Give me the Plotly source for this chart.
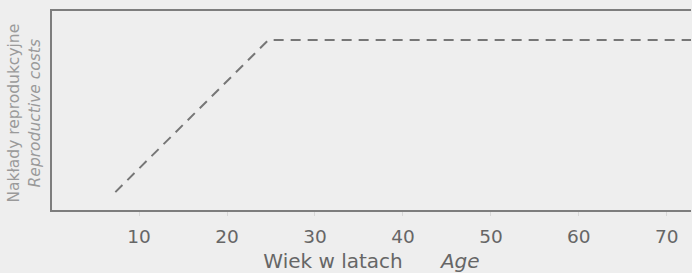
import plotly.graph_objects as go

# Data
ages = [7.3, 24.7, 73.5]
costs = [0.9, 8.54, 8.54]
tick_vals = [10, 20, 30, 40, 50, 60, 70]
tick_text = ["10", "20", "30", "40", "50", "60", "70"]

bg = "#eeeeee"
fig = go.Figure()
fig.add_trace(go.Scatter(
    x=ages, y=costs, mode="lines",
    line=dict(color="#767676", width=2, dash="10px,7px"),
    showlegend=False, hoverinfo="skip",
))

fig.update_layout(
    width=692, height=273,
    margin=dict(l=52, r=1, t=11, b=63, autoexpand=False),
    paper_bgcolor=bg, plot_bgcolor=bg,
    font=dict(family="DejaVu Sans, sans-serif", color="#666666"),
    hovermode=False,
    xaxis=dict(
        range=[0.1, 72.75], tickvals=tick_vals, ticktext=tick_text,
        showgrid=False, zeroline=False, automargin=False,
        showline=True, linecolor="#7d7d7d", linewidth=2, mirror=True,
        ticks="outside", ticklen=4, tickcolor="#d8d8d8", tickwidth=1,
        ticklabelstandoff=5,
        tickfont=dict(size=18.5, color="#666666"),
        title=dict(text="Wiek w latach&nbsp;&nbsp;&nbsp;&nbsp;&nbsp;&nbsp;<i>Age</i>",
                   font=dict(size=20, color="#666666"), standoff=8),
    ),
    yaxis=dict(
        range=[0, 10], showticklabels=False, ticks="",
        showgrid=False, zeroline=False, automargin=False,
        showline=True, linecolor="#7d7d7d", linewidth=2, mirror=False,
    ),
    annotations=[dict(
        text="Nakłady reprodukcyjne<br><i>Reproductive costs</i>",
        textangle=-90, xref="paper", yref="paper",
        x=-0.043, y=0.487, xanchor="center", yanchor="middle",
        showarrow=False, font=dict(size=15.5, color="#9a9a9a"),
    )],
)

fig.write_html("out.html", config={"displayModeBar": False},
               post_script="document.body.style.margin='0';")
